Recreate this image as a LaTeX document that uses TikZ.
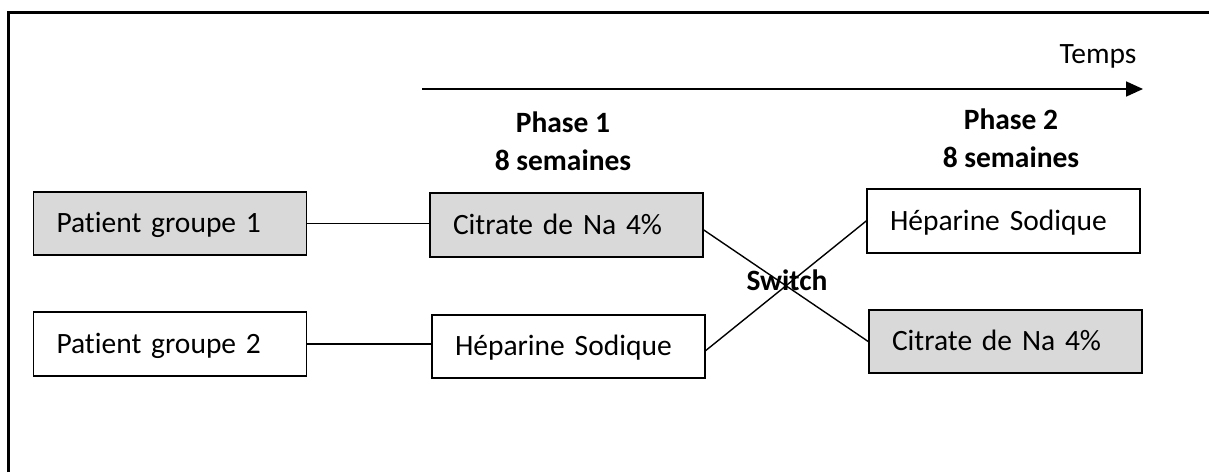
\documentclass[tikz,border=0pt]{standalone}
\usepackage{fontspec}
\setmainfont{Carlito}[Ligatures=NoCommon]
\usetikzlibrary{arrows.meta}
\definecolor{boxgray}{HTML}{D9D9D9}
\tikzset{
  box/.style={draw=black, line width=1.6pt, inner xsep=23pt, inner ysep=0pt,
              text width=227pt, text height=24pt, text depth=6pt,
              align=left, font=\fontsize{29.5}{35}\selectfont},
  link/.style={draw=black, line width=1.4pt},
  label/.style={font=\fontsize{29.5}{37}\selectfont, inner sep=0pt},
  boldlabel/.style={font=\fontsize{29.5}{37.5}\selectfont\bfseries, align=center, inner sep=0pt}
}
\begin{document}
\begin{tikzpicture}[x=1pt, y=-1pt]
  \useasboundingbox (0,0) rectangle (1209,472);
  % open frame: top and left edges
  \draw[line width=2.2pt] (8.5,472) -- (8.5,12.5) -- (1209,12.5);

  % time axis
  \coordinate (ts) at (422,89);
  \coordinate (te) at (1143,89);
  \draw[line width=1.8pt, -{Triangle[length=17pt,width=15pt]}] (ts) -- (te);
  \node[label, anchor=base] (temps) at (1098,63) {Temps};

  % phase headings (base anchor sits on the last line)
  \node[boldlabel, anchor=base] (ph1) at (563,170) {Phase 1\\8 semaines};
  \node[boldlabel, anchor=base] (ph2) at (1011,167) {Phase 2\\8 semaines};

  % patient groups
  \node[box, fill=boxgray, minimum height=63pt] (g1) at (170,223.5) {Patient groupe 1};
  \node[box, fill=white, minimum height=64pt] (g2) at (170,344) {Patient groupe 2};

  % phase 1 treatments
  \node[box, fill=boxgray, minimum height=64pt] (c1) at (566.5,225) {Citrate de Na 4\%};
  \node[box, fill=white, minimum height=63pt] (h1) at (568.5,346.5) {Héparine Sodique};

  % phase 2 treatments
  \node[box, fill=white, minimum height=64pt] (h2) at (1003.5,221) {Héparine Sodique};
  \node[box, fill=boxgray, minimum height=63pt] (c2) at (1005.5,341.5) {Citrate de Na 4\%};

  % connections
  \draw[link] (g1.east) -- (c1.west |- g1.east);
  \draw[link] (g2.east) -- (h1.west |- g2.east);
  \draw[link] ([yshift=-5pt]c1.east) -- (c2.west);
  \draw[link] ([yshift=-4pt]h1.east) -- (h2.west);

  \node[boldlabel, anchor=base] (sw) at (787,290) {Switch};
\end{tikzpicture}
\end{document}
